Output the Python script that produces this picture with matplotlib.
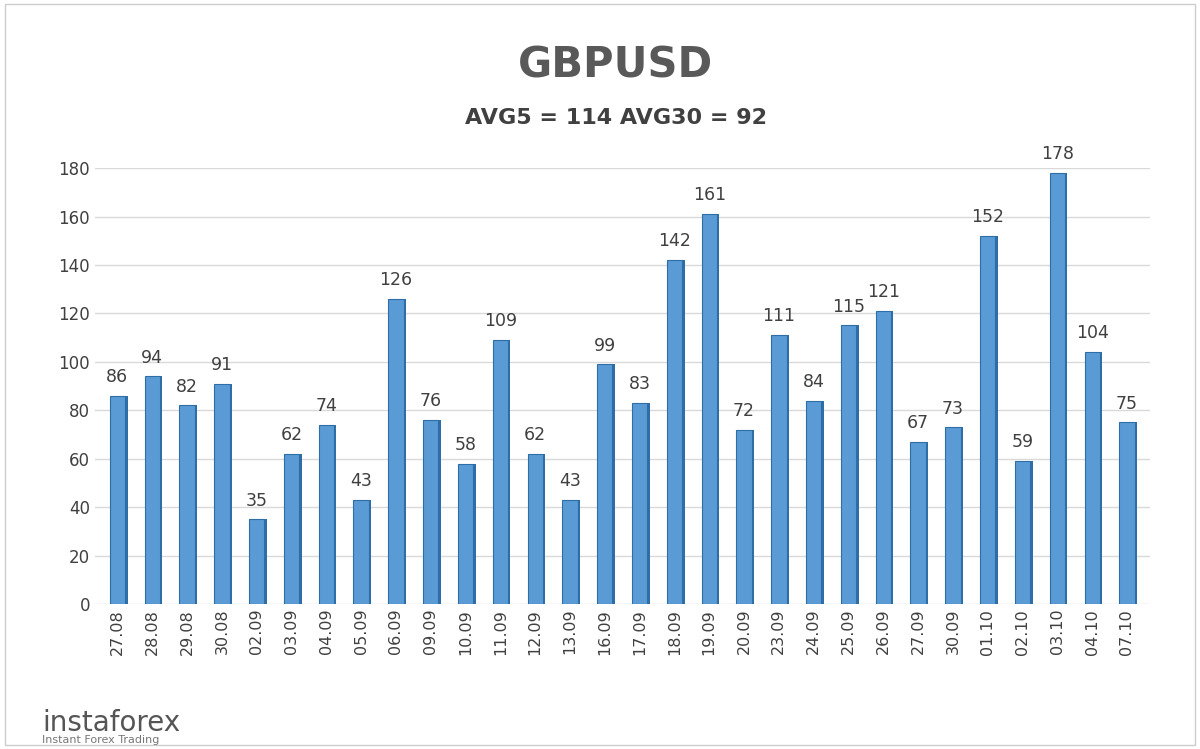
import matplotlib
matplotlib.use("Agg")
import matplotlib.pyplot as plt
import numpy as np

dates = ["27.08","28.08","29.08","30.08","02.09","03.09","04.09","05.09","06.09","09.09",
         "10.09","11.09","12.09","13.09","16.09","17.09","18.09","19.09","20.09","23.09",
         "24.09","25.09","26.09","27.09","30.09","01.10","02.10","03.10","04.10","07.10"]
values = [86,94,82,91,35,62,74,43,126,76,58,109,62,43,99,83,142,161,72,111,84,115,121,67,73,152,59,178,104,75]

fig = plt.figure(figsize=(12, 7.49), dpi=100)
fig.patch.set_facecolor("white")
ax = fig.add_axes([0.079, 0.1936, 0.879, 0.582])
x = np.arange(len(values))
ax.set_ylim(0, 180)
ax.set_xlim(-0.65, len(values) - 0.35)
for y in range(0, 181, 20):
    ax.axhline(y, color="#d9d9d9", lw=1, zorder=0)
ax.bar(x, values, width=0.44, color="#5b9bd5", edgecolor="#2e6ea6", lw=0.8, zorder=3)
ax.bar(x + 0.25, values, width=0.08, color="#2f6da8", lw=0, zorder=2)
for xi, v in zip(x, values):
    ax.text(xi, v + 4, str(v), ha="center", va="bottom", fontsize=12.5, color="#404040")
ax.set_yticks(range(0, 181, 20))
ax.set_xticks(x)
ax.set_xticklabels(dates, rotation=90, fontsize=11.5, color="#404040")
ax.tick_params(axis="y", labelsize=12, colors="#404040", length=0)
ax.tick_params(axis="x", length=0)
for s in ax.spines.values():
    s.set_visible(False)
fig.text(0.513, 0.912, "GBPUSD", ha="center", va="center", fontsize=30, fontweight="bold", color="#595959")
fig.text(0.513, 0.843, "AVG5 = 114 AVG30 = 92", ha="center", va="center", fontsize=16, fontweight="bold", color="#404040")
fig.text(0.035, 0.035, "instaforex", fontsize=20, color="#555555", va="center")
fig.text(0.035, 0.012, "Instant Forex Trading", fontsize=8, color="#777777", va="center")
fig.add_artist(plt.Rectangle((0.004, 0.006), 0.992, 0.988, transform=fig.transFigure, fill=False, ec="#cccccc", lw=1))
fig.savefig("out.png", dpi=100)
